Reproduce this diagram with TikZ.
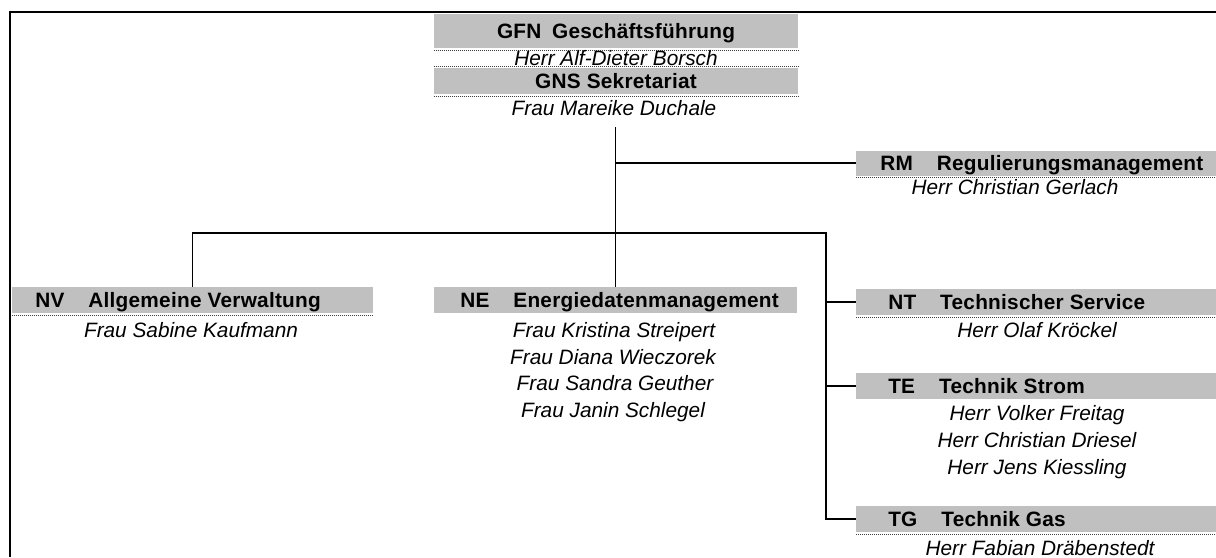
\documentclass[tikz,border=0pt]{standalone}
\usepackage{fontspec}
\setmainfont{Liberation Sans}
\definecolor{boxgray}{HTML}{C0C0C0}
\newcommand\cgap{\hspace{18pt}}
\begin{document}
\begin{tikzpicture}[x=0.75pt,y=-0.75pt,
  gbox/.style={fill=boxgray, draw=none, inner sep=0pt},
  title/.style={font=\fontsize{15.6}{18}\selectfont\bfseries\addfontfeatures{LetterSpace=1.2}, inner sep=0pt},
  person/.style={font=\fontsize{15.6}{18}\selectfont\itshape, inner sep=0pt, anchor=base},
  conn/.style={line width=1.1pt},
  frame/.style={line width=1.6pt},
  dotline/.style={line width=0.8pt, black!75, dash pattern=on 0.75pt off 0.75pt}]
\useasboundingbox (0,0) rectangle (1216,557);
% frame
\coordinate (fbl) at (10,557);
\coordinate (ftl) at (10,12);
\coordinate (ftr) at (1216,12);
\draw[frame] (fbl) -- (ftl) -- (ftr);
% boxes
\node[gbox, minimum width=364*0.75pt, minimum height=34*0.75pt] (boxGFN) at (616,31) {};
\node[gbox, minimum width=364*0.75pt, minimum height=26*0.75pt] (boxGNS) at (616,81) {};
\node[gbox, minimum width=360*0.75pt, minimum height=25*0.75pt] (boxRM) at (1036,163) {};
\node[gbox, minimum width=361*0.75pt, minimum height=26*0.75pt] (boxNV) at (192.5,300) {};
\node[gbox, minimum width=363*0.75pt, minimum height=26*0.75pt] (boxNE) at (615.5,300) {};
\node[gbox, minimum width=360*0.75pt, minimum height=26*0.75pt] (boxNT) at (1036,302) {};
\node[gbox, minimum width=360*0.75pt, minimum height=26*0.75pt] (boxTE) at (1036,386) {};
\node[gbox, minimum width=360*0.75pt, minimum height=26*0.75pt] (boxTG) at (1036,519) {};
% dotted rules
\draw[dotline] ([yshift=-1.5pt]boxGFN.south west) -- ([yshift=-1.5pt]boxGFN.south east);
\draw[dotline] ([yshift=0.75pt]boxGNS.north west) -- ([yshift=0.75pt]boxGNS.north east);
\draw[dotline] ([yshift=-1.5pt]boxGNS.south west) -- ([yshift=-1.5pt]boxGNS.south east);
\draw[dotline] ([yshift=-1.5pt]boxRM.south west) -- ([yshift=-1.5pt]boxRM.south east);
\draw[dotline] ([yshift=-1.5pt]boxNV.south west) -- ([yshift=-1.5pt]boxNV.south east);
\draw[dotline] ([yshift=-1.5pt]boxNT.south west) -- ([yshift=-1.5pt]boxNT.south east);
\draw[dotline] ([yshift=-1.5pt]boxTG.south west) -- ([yshift=-1.5pt]boxTG.south east);
% titles
\node[title, anchor=base] (tGFN) at (616,38) {GFN\hspace{8pt}Geschäftsführung};
\node[title, anchor=base] (tGNS) at (616,88) {GNS Sekretariat};
\node[title, anchor=base west] (tRM) at (880,170) {RM\cgap Regulierungsmanagement};
\node[title, anchor=base west] (tNV) at (35,307) {NV\cgap Allgemeine Verwaltung};
\node[title, anchor=base west] (tNE) at (460,307) {NE\cgap Energiedatenmanagement};
\node[title, anchor=base west] (tNT) at (888,309) {NT\cgap Technischer Service};
\node[title, anchor=base west] (tTE) at (888,393) {TE\cgap Technik Strom};
\node[title, anchor=base west] (tTG) at (888,526) {TG\cgap Technik Gas};
% persons
\node[person] (pGFN) at (616,65) {Herr Alf-Dieter Borsch};
\node[person] (pGNS) at (614,115) {Frau Mareike Duchale};
\node[person] (pRM) at (1015,194) {Herr Christian Gerlach};
\node[person] (pNV) at (191,337) {Frau Sabine Kaufmann};
\node[person] (pNE1) at (614,337) {Frau Kristina Streipert};
\node[person] (pNE2) at (613,364) {Frau Diana Wieczorek};
\node[person] (pNE3) at (615,390) {Frau Sandra Geuther};
\node[person] (pNE4) at (613,417) {Frau Janin Schlegel};
\node[person] (pNT) at (1037,337) {Herr Olaf Kröckel};
\node[person] (pTE1) at (1037,420) {Herr Volker Freitag};
\node[person] (pTE2) at (1037,447) {Herr Christian Driesel};
\node[person] (pTE3) at (1037,474) {Herr Jens Kiessling};
\node[person] (pTG) at (1040,555) {Herr Fabian Dräbenstedt};
% connectors
\coordinate (trunktop) at (615.5,127);
\coordinate (bar) at (826,233);
\draw[conn] (trunktop) -- (boxNE.north);
\draw[conn] (trunktop |- boxRM.west) -- (boxRM.west);
\draw[conn] (boxNV.north) |- (bar) -- (bar |- boxTG.west) -- (boxTG.west);
\draw[conn] (bar |- boxNT.west) -- (boxNT.west);
\draw[conn] (bar |- boxTE.west) -- (boxTE.west);
\end{tikzpicture}
\end{document}
